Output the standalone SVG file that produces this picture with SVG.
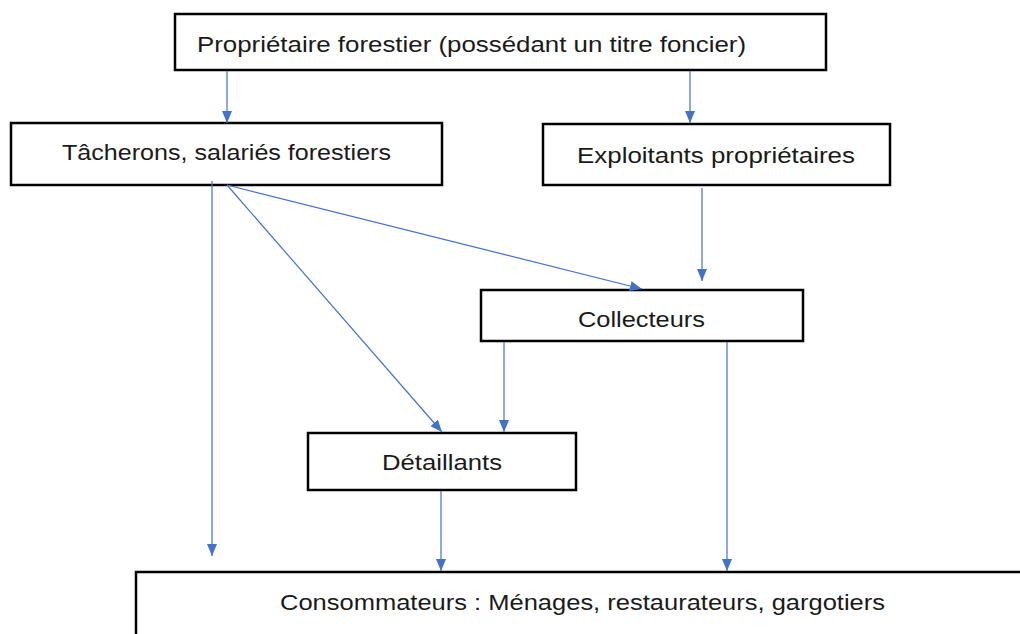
<svg xmlns="http://www.w3.org/2000/svg" width="1020" height="634" viewBox="0 0 1020 634">
<style>
.box{fill:#fff;stroke:#000;stroke-width:2.5}
.lbl{font-family:"Liberation Sans",Arial,sans-serif;font-size:22px;fill:#1a1a1a}
.con{stroke:#4472C4;stroke-width:1.2;fill:none;marker-end:url(#ah)}
</style>
<defs>
<marker id="ah" viewBox="0 0 12 10" refX="12" refY="5" markerWidth="12" markerHeight="10" markerUnits="userSpaceOnUse" orient="auto">
<path d="M0,0 L12,5 L0,10 Z" fill="#4472C4"/>
</marker>
</defs>
<rect width="1020" height="634" fill="#fff"/>
<g id="n-proprietaire">
<rect class="box" x="175" y="14" width="651" height="56"/>
<text class="lbl" x="197" y="52" textLength="549" lengthAdjust="spacingAndGlyphs">Propriétaire forestier (possédant un titre foncier)</text>
</g>
<g id="n-tacherons">
<rect class="box" x="11" y="123" width="431" height="62"/>
<text class="lbl" x="62" y="160" textLength="329" lengthAdjust="spacingAndGlyphs">Tâcherons, salariés forestiers</text>
</g>
<g id="n-exploitants">
<rect class="box" x="543" y="124" width="347" height="61"/>
<text class="lbl" x="577" y="163" textLength="278" lengthAdjust="spacingAndGlyphs">Exploitants propriétaires</text>
</g>
<g id="n-collecteurs">
<rect class="box" x="481" y="290" width="322" height="51"/>
<text class="lbl" x="578" y="327" textLength="127" lengthAdjust="spacingAndGlyphs">Collecteurs</text>
</g>
<g id="n-detaillants">
<rect class="box" x="308" y="433" width="268" height="57"/>
<text class="lbl" x="382" y="470" textLength="120" lengthAdjust="spacingAndGlyphs">Détaillants</text>
</g>
<g id="n-consommateurs">
<rect class="box" x="136" y="572" width="900" height="80"/>
<text class="lbl" x="280" y="610" textLength="605" lengthAdjust="spacingAndGlyphs">Consommateurs : Ménages, restaurateurs, gargotiers</text>
</g>
<g id="connectors">
<line class="con" x1="227" y1="71" x2="227" y2="123"/>
<line class="con" x1="690" y1="71" x2="690" y2="123"/>
<line class="con" x1="212" y1="181" x2="212" y2="556"/>
<line class="con" x1="227" y1="185" x2="642" y2="289"/>
<line class="con" x1="227" y1="185" x2="442" y2="432"/>
<line class="con" x1="702" y1="188" x2="702" y2="281"/>
<line class="con" x1="504" y1="342" x2="504" y2="432"/>
<line class="con" x1="727" y1="342" x2="727" y2="571"/>
<line class="con" x1="441" y1="491" x2="441" y2="571"/>
</g>
</svg>
